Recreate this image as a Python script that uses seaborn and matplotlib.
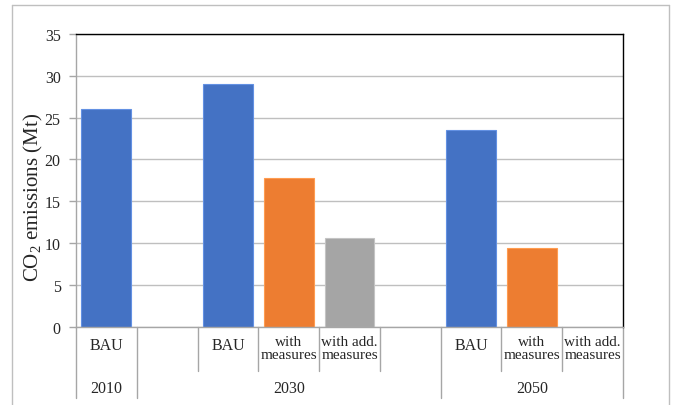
import numpy as np
import pandas as pd
import matplotlib
matplotlib.use("Agg")
import matplotlib.pyplot as plt
import matplotlib.transforms as mtransforms
from matplotlib.lines import Line2D
import seaborn as sns

# ---- data ----
slot_labels = ["BAU", "", "BAU", "with\nmeasures", "with add.\nmeasures",
               "", "BAU", "with\nmeasures", "with add.\nmeasures"]
slot_scenarios = ["BAU", "blank", "BAU", "with measures", "with add. measures",
                  "blank", "BAU", "with measures", "with add. measures"]
values = [26.0, np.nan, 29.0, 17.8, 10.6, np.nan, 23.5, 9.4, np.nan]
years = ["2010", "2030", "2050"]
year_spans = [(0, 0), (1, 5), (6, 8)]
yticks = [0, 5, 10, 15, 20, 25, 30, 35]
palette = {"BAU": "#4472C4", "with measures": "#ED7D31",
           "with add. measures": "#A5A5A5", "blank": "#FFFFFF"}

sns.set_style("white")
plt.rcParams["font.family"] = ["Liberation Serif", "DejaVu Serif"]
plt.rcParams["mathtext.fontset"] = "custom"
plt.rcParams["mathtext.rm"] = "Liberation Serif"
plt.rcParams["mathtext.it"] = "Liberation Serif:italic"

slots = [f"s{i}" for i in range(len(values))]
df = pd.DataFrame({"slot": slots, "value": values, "scenario": slot_scenarios})

fig = plt.figure(figsize=(6.76, 4.06), dpi=100)
ax = fig.add_axes([76/676, 1-327.7/406, (623-76)/676, (327.7-35)/406])

sns.barplot(data=df, x="slot", y="value", hue="scenario", palette=palette,
            order=slots, dodge=False, width=0.82, legend=False, ax=ax,
            saturation=1, linewidth=0.8)
for p in ax.patches:
    fc = p.get_facecolor()
    p.set_edgecolor(tuple(min(1, c + 0.12) for c in fc[:3]))

ax.set_xlim(-0.5, len(values) - 0.5)
ax.set_ylim(0, 35)
ax.set_yticks(yticks)
ax.set_yticklabels([str(t) for t in yticks], fontsize=11.5)
ax.set_xticks([])
ax.set_xlabel("")
ax.set_ylabel("")
ax.yaxis.grid(True, color="#BFBFBF", linewidth=1.0)
ax.set_axisbelow(True)
ax.tick_params(axis="y", direction="out", length=5, width=1, color="#A6A6A6",
               pad=6, left=True)
for s in ["left", "bottom"]:
    ax.spines[s].set_color("#A6A6A6")
    ax.spines[s].set_linewidth(1.0)
for s in ["top", "right"]:
    ax.spines[s].set_color("#000000")
    ax.spines[s].set_linewidth(1.0)

trans = mtransforms.blended_transform_factory(ax.transData, ax.transAxes)
axh = 327.7 - 35
short = -44.3 / axh
full = -71.3 / axh
group_bounds = set([a - 0.5 for a, b in year_spans] + [year_spans[-1][1] + 0.5])
for i in range(len(values) + 1):
    xb = i - 0.5
    yb = full if xb in group_bounds else short
    ax.plot([xb, xb], [0, yb], transform=trans, color="#A6A6A6",
            linewidth=1.0, clip_on=False)

for i, lab in enumerate(slot_labels):
    if not lab:
        continue
    if "\n" in lab:
        ax.text(i, -8.5 / axh, lab, transform=trans, ha="center", va="top",
                fontsize=11, linespacing=1.0)
    else:
        ax.text(i, -18 / axh, lab, transform=trans, ha="center", va="center",
                fontsize=11.5)

for yr, (a, b) in zip(years, year_spans):
    ax.text((a + b) / 2, -61.5 / axh, yr, transform=trans, ha="center",
            va="center", fontsize=11.5)

fig.text(33/676, 1 - 197/406, "CO$_\\mathrm{2}$ emissions (Mt)", rotation=90,
         ha="center", va="center", fontsize=15)

# outer chart frame
fc = "#BFBFBF"
x0, x1, yt = 12/676, 669/676, 1 - 6/406
for xs, ys in [([x0, x0], [yt, -0.1]), ([x1, x1], [yt, -0.1]), ([x0, x1], [yt, yt])]:
    fig.add_artist(Line2D(xs, ys, transform=fig.transFigure, color=fc, linewidth=1.0))

fig.savefig("out.png", dpi=100)
